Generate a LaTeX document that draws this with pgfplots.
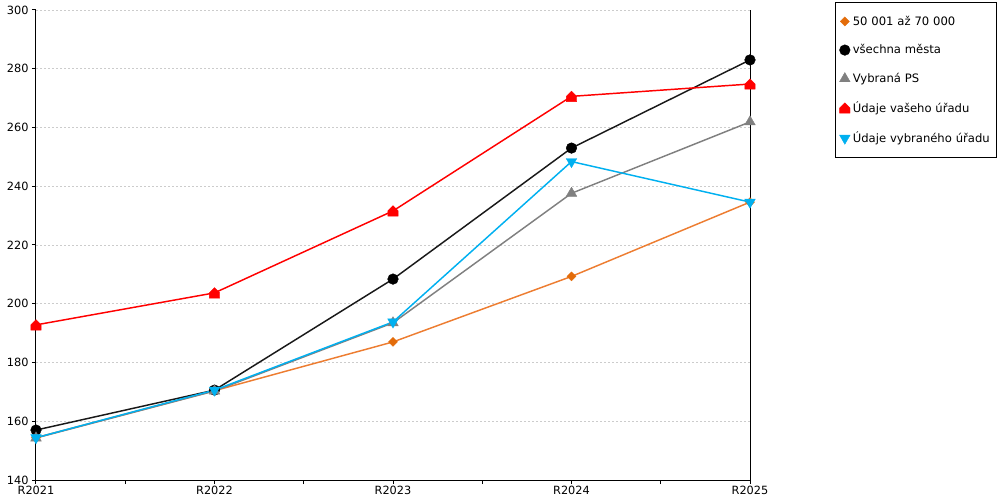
\documentclass[border=0pt]{standalone}
\usepackage{fontspec}
\setmainfont{DejaVu Sans}
\usepackage{pgfplots}
\pgfplotsset{compat=1.18}
\usetikzlibrary{plotmarks}
\definecolor{corange}{RGB}{237,125,49}
\definecolor{corangem}{RGB}{227,108,10}
\definecolor{cgray}{RGB}{128,128,128}
\definecolor{cred}{RGB}{255,0,0}
\definecolor{cblue}{RGB}{0,176,240}
\pgfdeclareplotmark{house}{%
  \pgfpathmoveto{\pgfqpoint{-\pgfplotmarksize}{-\pgfplotmarksize}}%
  \pgfpathlineto{\pgfqpoint{\pgfplotmarksize}{-\pgfplotmarksize}}%
  \pgfpathlineto{\pgfqpoint{\pgfplotmarksize}{0pt}}%
  \pgfpathlineto{\pgfqpoint{0pt}{\pgfplotmarksize}}%
  \pgfpathlineto{\pgfqpoint{-\pgfplotmarksize}{0pt}}%
  \pgfpathclose
  \pgfusepathqfillstroke}
\begin{document}
\begin{tikzpicture}
\begin{axis}[
  scale only axis,
  width=535.5pt, height=352.5pt,
  xmin=0, xmax=4, ymin=140, ymax=300,
  axis x line*=bottom, axis y line*=box,
  ytick={140,160,...,300},
  ytick pos=left,
  xtick={0,1,2,3,4},
  xticklabels={R2021,R2022,R2023,R2024,R2025},
  minor xtick={0.5,1.5,2.5,3.5},
  tick align=outside,
  major tick length=3pt, minor tick length=3pt,
  tick style={black, line width=0.75pt},
  axis line style={black, line width=0.75pt},
  ymajorgrids,
  major grid style={gray!40, dash pattern=on 1.5pt off 1.5pt, line width=0.5pt},
  tick label style={font=\fontsize{8.5}{9}\selectfont},
  /pgf/number format/assume math mode=true,
  xticklabel style={yshift=2pt},
  yticklabel style={xshift=1pt},
  clip=false,
  legend style={at={(1,1)}, anchor=north west, xshift=63.75pt, yshift=6pt,
    draw=black, line width=0.75pt, font=\fontsize{8.7}{10}\selectfont,
    row sep=9pt, inner xsep=3pt, inner ysep=8pt,
    text width=103pt},
  legend cell align=left,
  legend image code/.code={\draw plot coordinates {(0.15cm,0cm)};},
  every axis plot/.append style={line width=1.1pt},
]
\addplot[corange, mark=square*, mark size=2.4pt, mark options={rotate=45, fill=corangem, draw=corangem, line width=0.3pt}] coordinates {
(0,154.4) (1,170.4) (2,187.0) (3,209.3) (4,234.6)};
\addlegendentry{50 001 až 70 000}
\addplot[black!90, mark=*, mark size=4pt, mark options={fill=black, draw=black, line width=0.3pt}] coordinates {
(0,157.0) (1,170.6) (2,208.4) (3,253.0) (4,283.0)};
\addlegendentry{všechna města}
\addplot[cgray, mark=triangle*, mark size=4.6pt, mark options={fill=cgray, draw=cgray, line width=0.3pt}] coordinates {
(0,154.3) (1,170.3) (2,193.5) (3,237.6) (4,261.9)};
\addlegendentry{Vybraná PS}
\addplot[cred, mark=house, mark size=3.9pt, mark options={fill=cred, draw=cred, line width=0.3pt}] coordinates {
(0,192.8) (1,203.7) (2,231.6) (3,270.6) (4,274.8)};
\addlegendentry{Údaje vašeho úřadu}
\addplot[cblue, mark=triangle*, mark size=4.6pt, mark options={rotate=180, fill=cblue, draw=cblue, line width=0.3pt}] coordinates {
(0,154.4) (1,170.6) (2,193.8) (3,248.4) (4,234.6)};
\addlegendentry{Údaje vybraného úřadu}
\end{axis}
\pgfresetboundingbox
\path (-27pt,-15pt) rectangle (723pt,360pt);
\end{tikzpicture}
\end{document}
